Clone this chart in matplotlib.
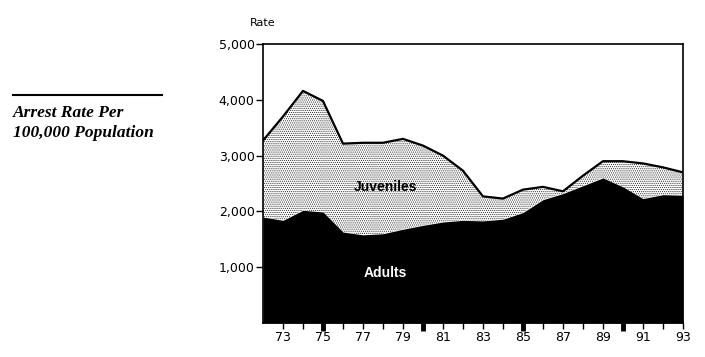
import matplotlib.pyplot as plt
from matplotlib.lines import Line2D

# arrest rate per 100,000 population
years = list(range(1972, 1994))
total = [3270, 3700, 4160, 3980, 3215, 3230, 3230, 3300, 3180, 3000, 2730,
         2270, 2230, 2390, 2440, 2360, 2640, 2900, 2900, 2860, 2790, 2700]
adults = [1900, 1840, 2020, 1990, 1630, 1580, 1600, 1680, 1750, 1810, 1840,
          1830, 1860, 1980, 2210, 2320, 2460, 2600, 2440, 2230, 2300, 2290]
year_labels = [str(y % 100) for y in range(1973, 1994, 2)]
y_ticks = [1000, 2000, 3000, 4000, 5000]

plt.rcParams['hatch.linewidth'] = 0.5

fig = plt.figure(figsize=(7.05, 3.57), dpi=100)
ax = fig.add_axes([0.373, 0.0952, 0.5957, 0.7815])

# juveniles stacked on top of adults
ax.fill_between(years, adults, total, facecolor='white', edgecolor='#222222',
                hatch='........', linewidth=0)
ax.fill_between(years, 0, adults, color='black', linewidth=0)
ax.plot(years, total, color='black', linewidth=1.6)

ax.set_xlim(1972, 1993)
ax.set_ylim(0, 5000)

ax.set_yticks(y_ticks)
ax.set_yticklabels(["{:,}".format(v) for v in y_ticks])
ax.tick_params(axis='y', length=5, width=1, labelsize=9, pad=1)

odd_years = list(range(1973, 1994, 2))
ax.set_xticks(odd_years)
ax.set_xticklabels(year_labels)
ax.set_xticks([y for y in years[1:] if y % 2 == 0 and y % 5 != 0], minor=True)
ax.tick_params(axis='x', which='both', length=4, width=1, labelsize=9, pad=2)

# heavy ticks every five years
sec = ax.secondary_xaxis('bottom')
sec.set_xticks([1975, 1980, 1985, 1990])
sec.set_xticklabels([])
sec.tick_params(length=6, width=3.5)
sec.spines['bottom'].set_visible(False)

for s in ax.spines.values():
    s.set_linewidth(1.2)

ax.text(1978.15, 2430, "Juveniles", fontsize=10, fontweight='bold',
        family='Liberation Sans', ha='center', va='center')
ax.text(1978.1, 893, "Adults", fontsize=10, fontweight='bold', color='white',
        family='Liberation Sans', ha='center', va='center')
ax.text(0, 1.075, "Rate", transform=ax.transAxes, fontsize=8, ha='center', va='center')

fig.add_artist(Line2D([13 / 705, 162 / 705], [1 - 95 / 357, 1 - 95 / 357],
                      color='black', linewidth=1.5))
fig.text(13 / 705, 1 - 113 / 357, "Arrest Rate Per", family='Liberation Serif',
         fontweight='bold', style='italic', fontsize=12.5, va='center')
fig.text(13 / 705, 1 - 133 / 357, "100,000 Population", family='Liberation Serif',
         fontweight='bold', style='italic', fontsize=12.5, va='center')

fig.savefig("out.png", dpi=100)
